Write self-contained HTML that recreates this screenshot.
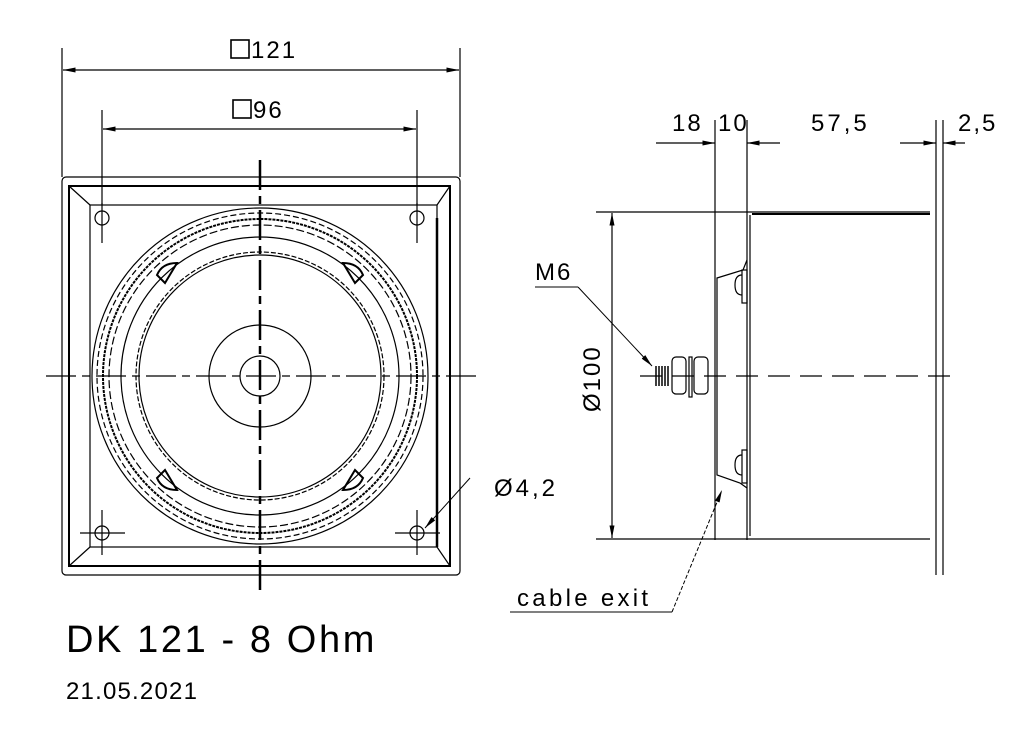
<!DOCTYPE html>
<html><head><meta charset="utf-8"><style>
html,body{margin:0;padding:0;background:#fff;}
svg{display:block;}
text{font-family:"Liberation Sans",sans-serif;fill:#000;}
</style></head><body>
<svg width="1024" height="745" viewBox="0 0 1024 745" xmlns="http://www.w3.org/2000/svg">
<defs>
<marker id="a" viewBox="0 0 10 4" refX="10" refY="2" markerWidth="14" markerHeight="5" orient="auto-start-reverse" markerUnits="userSpaceOnUse"><path d="M0,0 L10,2 L0,4z" fill="#000"/></marker>
</defs>
<g stroke="#000" fill="none" stroke-width="1.2">
<line x1="62" y1="48" x2="62" y2="177"/><line x1="460" y1="48" x2="460" y2="177"/>
<line x1="63" y1="70" x2="459" y2="70" marker-start="url(#a)" marker-end="url(#a)"/>
<line x1="102" y1="110" x2="102" y2="205"/><line x1="417" y1="110" x2="417" y2="205"/>
<line x1="103" y1="129" x2="416" y2="129" marker-start="url(#a)" marker-end="url(#a)"/>
<rect x="231" y="40" width="18" height="18" stroke-width="1.6"/><rect x="233" y="100" width="18" height="18" stroke-width="1.6"/>
<rect x="62" y="177" width="398" height="398" rx="4"/>
<rect x="69" y="186" width="381" height="380" stroke-width="2"/>
<rect x="90" y="205" width="347" height="342"/>
<line x1="69" y1="186" x2="90" y2="205"/><line x1="450" y1="186" x2="437" y2="205"/>
<line x1="69" y1="566" x2="90" y2="547"/><line x1="450" y1="566" x2="437" y2="547"/>
<line x1="437" y1="218" x2="437" y2="547" stroke-width="2.5"/>
<circle cx="102" cy="218" r="7"/><circle cx="417" cy="218" r="7"/><circle cx="102" cy="533" r="7"/><circle cx="417" cy="533" r="7"/>
<line x1="102" y1="203" x2="102" y2="243"/><line x1="417" y1="203" x2="417" y2="243"/>
<line x1="80" y1="533" x2="125" y2="533"/><line x1="395" y1="533" x2="440" y2="533"/>
<line x1="102" y1="510" x2="102" y2="555"/><line x1="417" y1="510" x2="417" y2="555"/>
<circle cx="260" cy="376" r="168"/>
<circle cx="260" cy="376" r="163" stroke-dasharray="6 3"/>
<circle cx="260" cy="376" r="157" stroke-width="2" stroke-dasharray="3 1"/>
<circle cx="260" cy="376" r="151" stroke-dasharray="8 3"/>
<circle cx="260" cy="376" r="139"/>
<circle cx="260" cy="376" r="124" stroke-dasharray="5 2"/>
<circle cx="260" cy="376" r="121"/>
<circle cx="260" cy="376" r="51"/>
<circle cx="260" cy="376" r="20"/>
<path d="M157,275 q5,-12 20,-12 l-12,20z M363,275 q-5,-12 -20,-12 l12,20z M157,478 q5,12 20,12 l-12,-20z M363,478 q-5,12 -20,12 l12,-20z" stroke-width="2"/>
<line x1="260" y1="160" x2="260" y2="592" stroke-width="2.5" stroke-dasharray="30 6 8 6"/>
<line x1="46" y1="376" x2="476" y2="376" stroke-dasharray="30 6 8 6"/>
<line x1="470" y1="478" x2="425" y2="528" marker-end="url(#a)" stroke-width="1"/>
<line x1="715" y1="120" x2="715" y2="540"/><line x1="747" y1="120" x2="747" y2="540"/>
<line x1="936" y1="120" x2="936" y2="575"/><line x1="943" y1="120" x2="943" y2="575"/>
<line x1="656" y1="143" x2="715" y2="143" marker-end="url(#a)"/>
<line x1="780" y1="143" x2="747" y2="143" marker-end="url(#a)"/>
<line x1="900" y1="143" x2="936" y2="143" marker-end="url(#a)"/>
<line x1="965" y1="143" x2="943" y2="143" marker-end="url(#a)"/>
<line x1="596" y1="212" x2="930" y2="212"/><line x1="596" y1="539" x2="930" y2="539"/>
<line x1="612" y1="213" x2="612" y2="538" marker-start="url(#a)" marker-end="url(#a)"/>
<line x1="750" y1="215" x2="750" y2="536"/>
<line x1="752" y1="214" x2="930" y2="214" stroke-width="2"/>
<path d="M747,260 L743,270 L717,278 L717,475 L740,483 L747,488"/>
<rect x="742" y="270" width="5" height="33"/><rect x="742" y="450" width="5" height="33"/>
<path d="M742,275 q-7,0 -7,10 q0,10 7,10 M742,455 q-7,0 -7,10 q0,10 7,10"/>
<rect x="672" y="357" width="14" height="37" rx="4"/><rect x="689" y="357" width="3" height="40"/><rect x="694" y="357" width="14" height="37" rx="4"/>
<path d="M656,366 v20 M659,366 v20 M662,366 v20 M665,366 v20 M668,366 v20" stroke-width="1.5"/>
<line x1="640" y1="376" x2="950" y2="376" stroke-dasharray="22 10"/>
<line x1="535" y1="287" x2="578" y2="287" stroke-width="1"/>
<line x1="578" y1="287" x2="652" y2="366" stroke-width="1" marker-end="url(#a)"/>
<line x1="510" y1="612" x2="672" y2="612" stroke-width="1"/>
<line x1="672" y1="612" x2="722" y2="490" stroke-width="1" stroke-dasharray="4 2" marker-end="url(#a)"/>
</g>
<g font-size="24" letter-spacing="2">
<text x="251" y="58">121</text>
<text x="253" y="118">96</text>
<text x="672" y="131">18</text>
<text x="718" y="131">10</text>
<text x="811" y="131" letter-spacing="3">57,5</text>
<text x="958" y="131">2,5</text>
<text x="535" y="280">M6</text>
<text x="494" y="496" letter-spacing="3">Ø4,2</text>
<text x="517" y="606" letter-spacing="3.3">cable exit</text>
<text transform="translate(600,412) rotate(-90)">Ø100</text>
</g>
<text x="66" y="652" font-size="38" letter-spacing="2.6">DK 121 - 8 Ohm</text>
<text x="66" y="699" font-size="24" letter-spacing="1.2">21.05.2021</text>
</svg>
</body></html>
